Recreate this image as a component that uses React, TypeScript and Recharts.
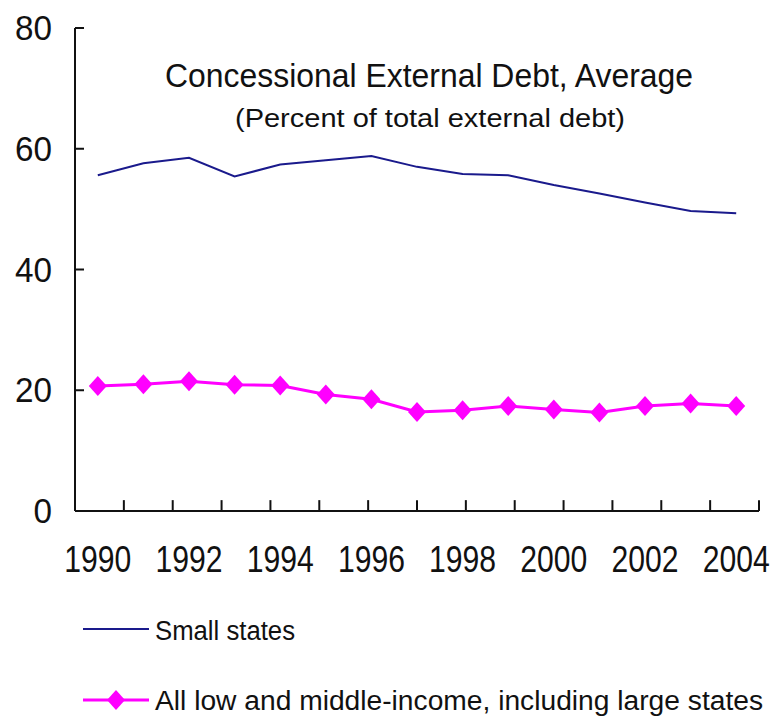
import React from 'react';
import {
  LineChart,
  Line,
  XAxis,
  YAxis,
  ReferenceArea,
  ReferenceLine,
  Legend,
} from 'recharts';

const years = [
  '1990', '1991', '1992', '1993', '1994', '1995', '1996', '1997',
  '1998', '1999', '2000', '2001', '2002', '2003', '2004',
];
const smallStates = [
  55.6, 57.6, 58.5, 55.4, 57.4, 58.1, 58.8, 57.0,
  55.8, 55.6, 54.0, 52.6, 51.1, 49.7, 49.3,
];
const allLowMiddle = [
  20.7, 21.0, 21.5, 20.9, 20.8, 19.3, 18.5, 16.4,
  16.7, 17.4, 16.8, 16.3, 17.4, 17.8, 17.4,
];
const yTicks = [0, 20, 40, 60, 80];
const xLabels = ['1990', '1992', '1994', '1996', '1998', '2000', '2002', '2004'];

const seriesNames = {
  small: 'Small states',
  all: 'All low and middle-income, including large states',
};

const data = years.map((year, i) => ({
  year,
  small: smallStates[i],
  all: allLowMiddle[i],
}));

// tick marks sit on the boundaries between year bands
const bandEdges = years.slice(1).map((_, i) => i + 1);

const FONT = '"Liberation Sans", Arial, sans-serif';
const INK = '#111';
const NAVY = '#1a1a8c';
const MAGENTA = '#ff00ff';

const Diamond = ({ cx, cy }: any) => {
  if (cx == null || cy == null) return null;
  return (
    <polygon
      points={`${cx},${cy - 10} ${cx + 9},${cy} ${cx},${cy + 10} ${cx - 9},${cy}`}
      fill={MAGENTA}
    />
  );
};

// the original type is a slightly condensed Arial, so widths are pinned
const XTick = ({ x, y, payload }: any) => {
  if (!xLabels.includes(payload.value)) return null;
  return (
    <text
      x={x}
      y={y}
      textAnchor="middle"
      fontSize={36}
      fontFamily={FONT}
      fill={INK}
      textLength={67}
      lengthAdjust="spacingAndGlyphs"
    >
      {payload.value}
    </text>
  );
};

const YTick = ({ x, y, payload }: any) => {
  const s = String(payload.value);
  return (
    <text
      x={x}
      y={y + 12}
      textAnchor="end"
      fontSize={35}
      fontFamily={FONT}
      fill={INK}
      textLength={18.5 * s.length}
      lengthAdjust="spacingAndGlyphs"
    >
      {s}
    </text>
  );
};

const LegendBox = () => (
  <svg width={774} height={117} style={{ display: 'block' }}>
    <line x1={83} y1={29} x2={149} y2={29} stroke={NAVY} strokeWidth={2} />
    <text
      x={155}
      y={40}
      fontSize={27}
      fontFamily={FONT}
      fill={INK}
      textLength={140}
      lengthAdjust="spacingAndGlyphs"
    >
      {seriesNames.small}
    </text>
    <line x1={83} y1={100} x2={149} y2={100} stroke={MAGENTA} strokeWidth={3} />
    <polygon points="116,90 125,100 116,110 107,100" fill={MAGENTA} />
    <text
      x={155}
      y={110}
      fontSize={27}
      fontFamily={FONT}
      fill={INK}
      textLength={608}
      lengthAdjust="spacingAndGlyphs"
    >
      {seriesNames.all}
    </text>
  </svg>
);

export default function App() {
  return (
    <div style={{ position: 'absolute', left: 0, top: 0 }}>
      <LineChart
        width={774}
        height={717}
        data={data}
        margin={{ top: 28, right: 15, left: 15, bottom: 146 }}
      >
        <XAxis
          dataKey="year"
          interval={0}
          padding={{ left: 22.8, right: 22.8 }}
          tickLine={false}
          tickSize={0}
          tickMargin={61}
          height={60}
          axisLine={{ stroke: INK, strokeWidth: 2 }}
          tick={<XTick />}
        />
        <XAxis
          xAxisId="marks"
          type="number"
          domain={[0, years.length]}
          allowDataOverflow
          hide
        />
        <YAxis
          domain={[0, 80]}
          ticks={yTicks}
          width={60}
          tickSize={-9}
          tickMargin={32}
          axisLine={{ stroke: INK, strokeWidth: 2 }}
          tickLine={{ stroke: INK, strokeWidth: 2 }}
          tick={<YTick />}
        />
        <ReferenceArea
          xAxisId="marks"
          x1={0}
          x2={years.length}
          y1={0}
          y2={80}
          fill="none"
          stroke={INK}
          strokeWidth={2}
          fillOpacity={0}
        />
        {bandEdges.map((e) => (
          <ReferenceLine
            key={e}
            xAxisId="marks"
            segment={[{ x: e, y: 0 }, { x: e, y: 1.8 }]}
            stroke={INK}
            strokeWidth={2}
          />
        ))}
        <text
          x={429}
          y={87}
          textAnchor="middle"
          fontSize={34}
          fontFamily={FONT}
          fill={INK}
          textLength={528}
          lengthAdjust="spacingAndGlyphs"
        >
          Concessional External Debt, Average
        </text>
        <text
          x={430}
          y={127}
          textAnchor="middle"
          fontSize={25}
          fontFamily={FONT}
          fill={INK}
          textLength={390}
          lengthAdjust="spacingAndGlyphs"
        >
          (Percent of total external debt)
        </text>
        <Line
          dataKey="small"
          name={seriesNames.small}
          stroke={NAVY}
          strokeWidth={2}
          dot={false}
          isAnimationActive={false}
        />
        <Line
          dataKey="all"
          name={seriesNames.all}
          stroke={MAGENTA}
          strokeWidth={3}
          dot={<Diamond />}
          isAnimationActive={false}
        />
        <Legend
          verticalAlign="middle"
          align="center"
          content={<LegendBox />}
          wrapperStyle={{ top: 600, left: 0, width: 774, height: 117 }}
        />
      </LineChart>
    </div>
  );
}
